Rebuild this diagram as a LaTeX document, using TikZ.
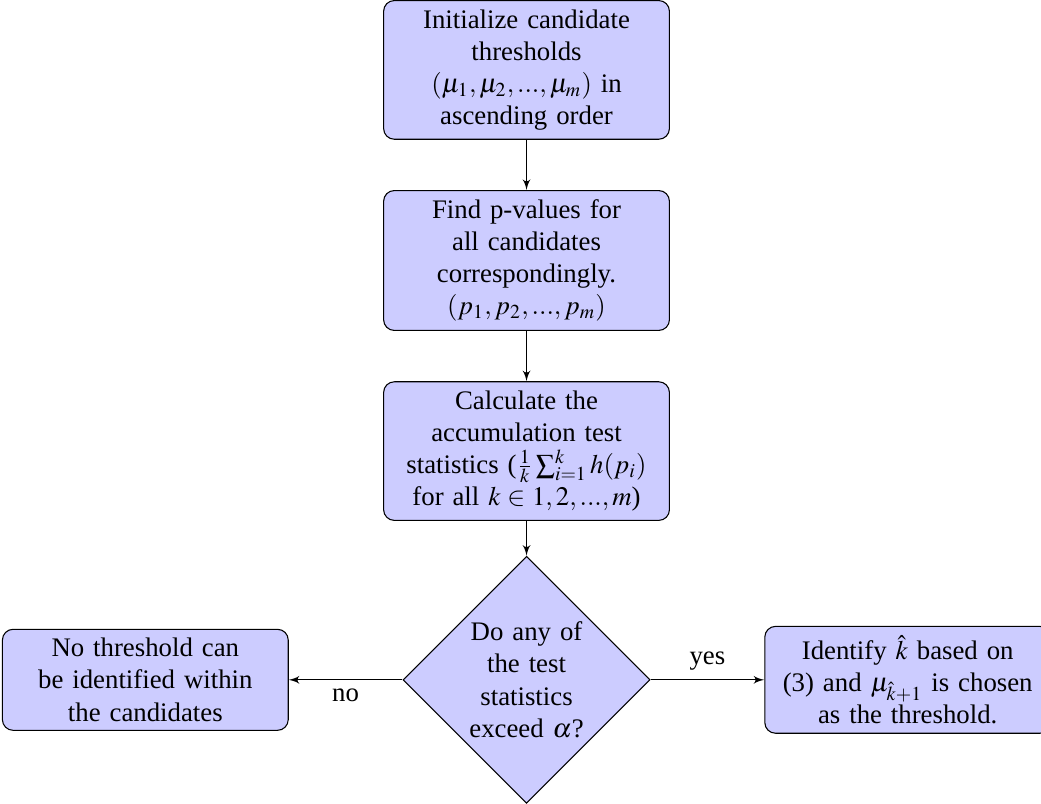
\documentclass[tikz,border=0pt]{standalone}
\usepackage{mathptmx}
\usepackage[no-math]{fontspec}
\setmainfont{Liberation Serif}
\usetikzlibrary{arrows,shapes.geometric}

\begin{document}
\begin{tikzpicture}[
    block/.style={rectangle, draw, fill=blue!20, text width=10em, text centered, rounded corners},
    decision/.style={diamond, draw, fill=blue!20, text width=4.5em, text centered, inner sep=1pt},
    line/.style={draw, -latex'}
]

                \node[block] (I) at (0,0) {Initialize candidate\\ thresholds\\ $(\mu_1,\mu_2,...,\mu_m)$ in\\ ascending order};
                \node[block] (P) at (0,-2.5) {Find p-values for\\ all candidates\\ correspondingly.\\ $(p_1,p_2,...,p_m)$};
                \node[block] (A) at (0,-5) {Calculate the\\ accumulation test\\ statistics ($\frac{1}{k}\sum_{i=1}^{k}h(p_i)$\\ for all $k\in 1,2,...,m$)};
                \node[decision] (D) at (0,-8) {Do any of\\ the test\\ statistics\\ exceed $\alpha$?};
                \node[block] (N) at (-5,-8) {No threshold can\\ be identified within\\ the candidates};
                \node[block] (Y) at (5,-8) {Identify $\hat{k}$ based on\\ (3) and $\mu_{\hat{k}+1}$ is chosen\\ as the threshold.};

                \path[line] (I) -- (P);
                \path[line] (P) -- (A);
                \path[line] (A) -- (D);
                \path[line] (D) -- node[below] {no} (N);
                \path[line] (D) -- node[above] {yes} (Y);

                % fix the frame to the reference's crop
                \pgfresetboundingbox
                \useasboundingbox ([xshift=-196.5pt]I.north) rectangle ([xshift=192pt]D.south);

\end{tikzpicture}
\end{document}
